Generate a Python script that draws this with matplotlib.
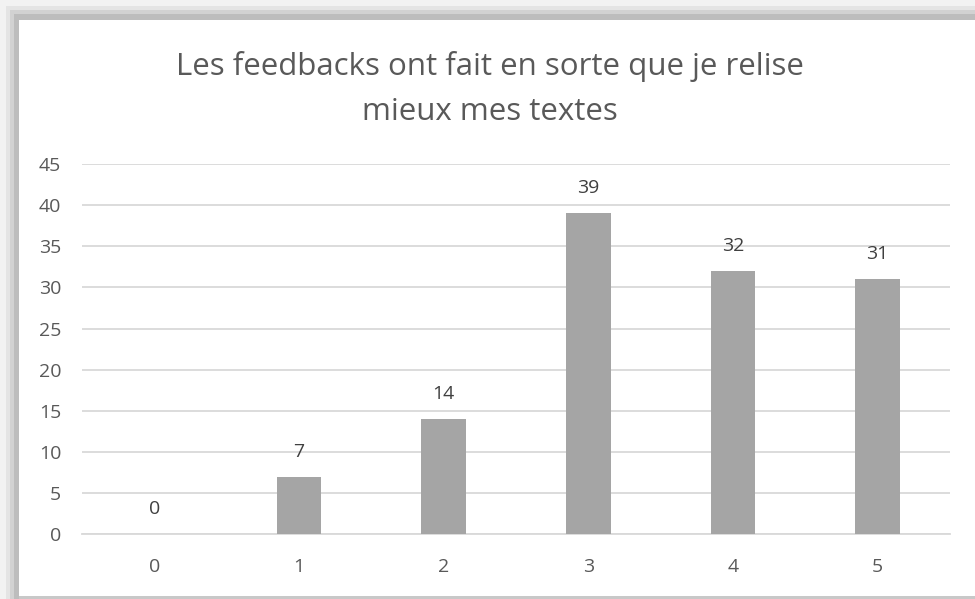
import matplotlib
matplotlib.use("Agg")
import matplotlib.pyplot as plt
from matplotlib.patches import Rectangle

# Survey responses: rating given vs. number of answers
ratings = [0, 1, 2, 3, 4, 5]
counts = [0, 7, 14, 39, 32, 31]
yticks = [0, 5, 10, 15, 20, 25, 30, 35, 40, 45]
title_lines = ["Les feedbacks ont fait en sorte que je relise", "mieux mes textes"]

plt.rcParams['font.family'] = ['Open Sans', 'DejaVu Sans']

W, H = 975, 599
fig = plt.figure(figsize=(W / 100, H / 100), dpi=100)
fig.patch.set_facecolor('white')

# soft drop-shadow frame along the top and left edges
shades = [('#f2f2f2', 0), ('#e4e4e4', 6), ('#d2d2d2', 10), ('#bdbdbd', 14)]
for col, off in shades:
    fig.add_artist(Rectangle((off / W, 0), 1, 1 - off / H, transform=fig.transFigure,
                             facecolor=col, edgecolor='none', zorder=-10))
fig.add_artist(Rectangle((19 / W, 3 / H), 1, 1 - 23 / H, transform=fig.transFigure,
                         facecolor='white', edgecolor='none', zorder=-9))
fig.add_artist(Rectangle((19 / W, 0), 1, 3 / H, transform=fig.transFigure,
                         facecolor='#c8c8c8', edgecolor='none', zorder=-9))

ax = fig.add_axes([82 / W, (H - 534.3) / H, (950 - 82) / W, (534.3 - 164) / H])
ax.set_facecolor('none')

bars = ax.bar(ratings, counts, width=0.31, color='#a5a5a5', zorder=3)
for x, v in zip(ratings, counts):
    ax.annotate(str(v), (x, v), xytext=(0, 18), textcoords='offset points',
                ha='center', va='center', fontsize=14, color='#404040')

ax.set_xlim(-0.5, 5.5)
ax.set_ylim(0, 45)
ax.set_yticks(yticks)
ax.set_xticks(ratings)
ax.set_xticklabels([str(r) for r in ratings])
ax.grid(axis='y', color='#d9d9d9', linewidth=1.3, zorder=0)
for s in ['top', 'right', 'left']:
    ax.spines[s].set_visible(False)
ax.spines['bottom'].set_color('#d9d9d9')
ax.spines['bottom'].set_linewidth(1.3)
ax.tick_params(axis='both', length=0, labelsize=14, labelcolor='#595959')
ax.tick_params(axis='y', pad=15)
ax.tick_params(axis='x', pad=17)

# two-line chart title, each line placed on its own baseline
for line, base in zip(title_lines, [75, 120]):
    fig.text(490 / W, (H - base) / H, line, ha='center', va='baseline',
             fontsize=22.5, color='#595959')

fig.savefig('out.png', dpi=100)
